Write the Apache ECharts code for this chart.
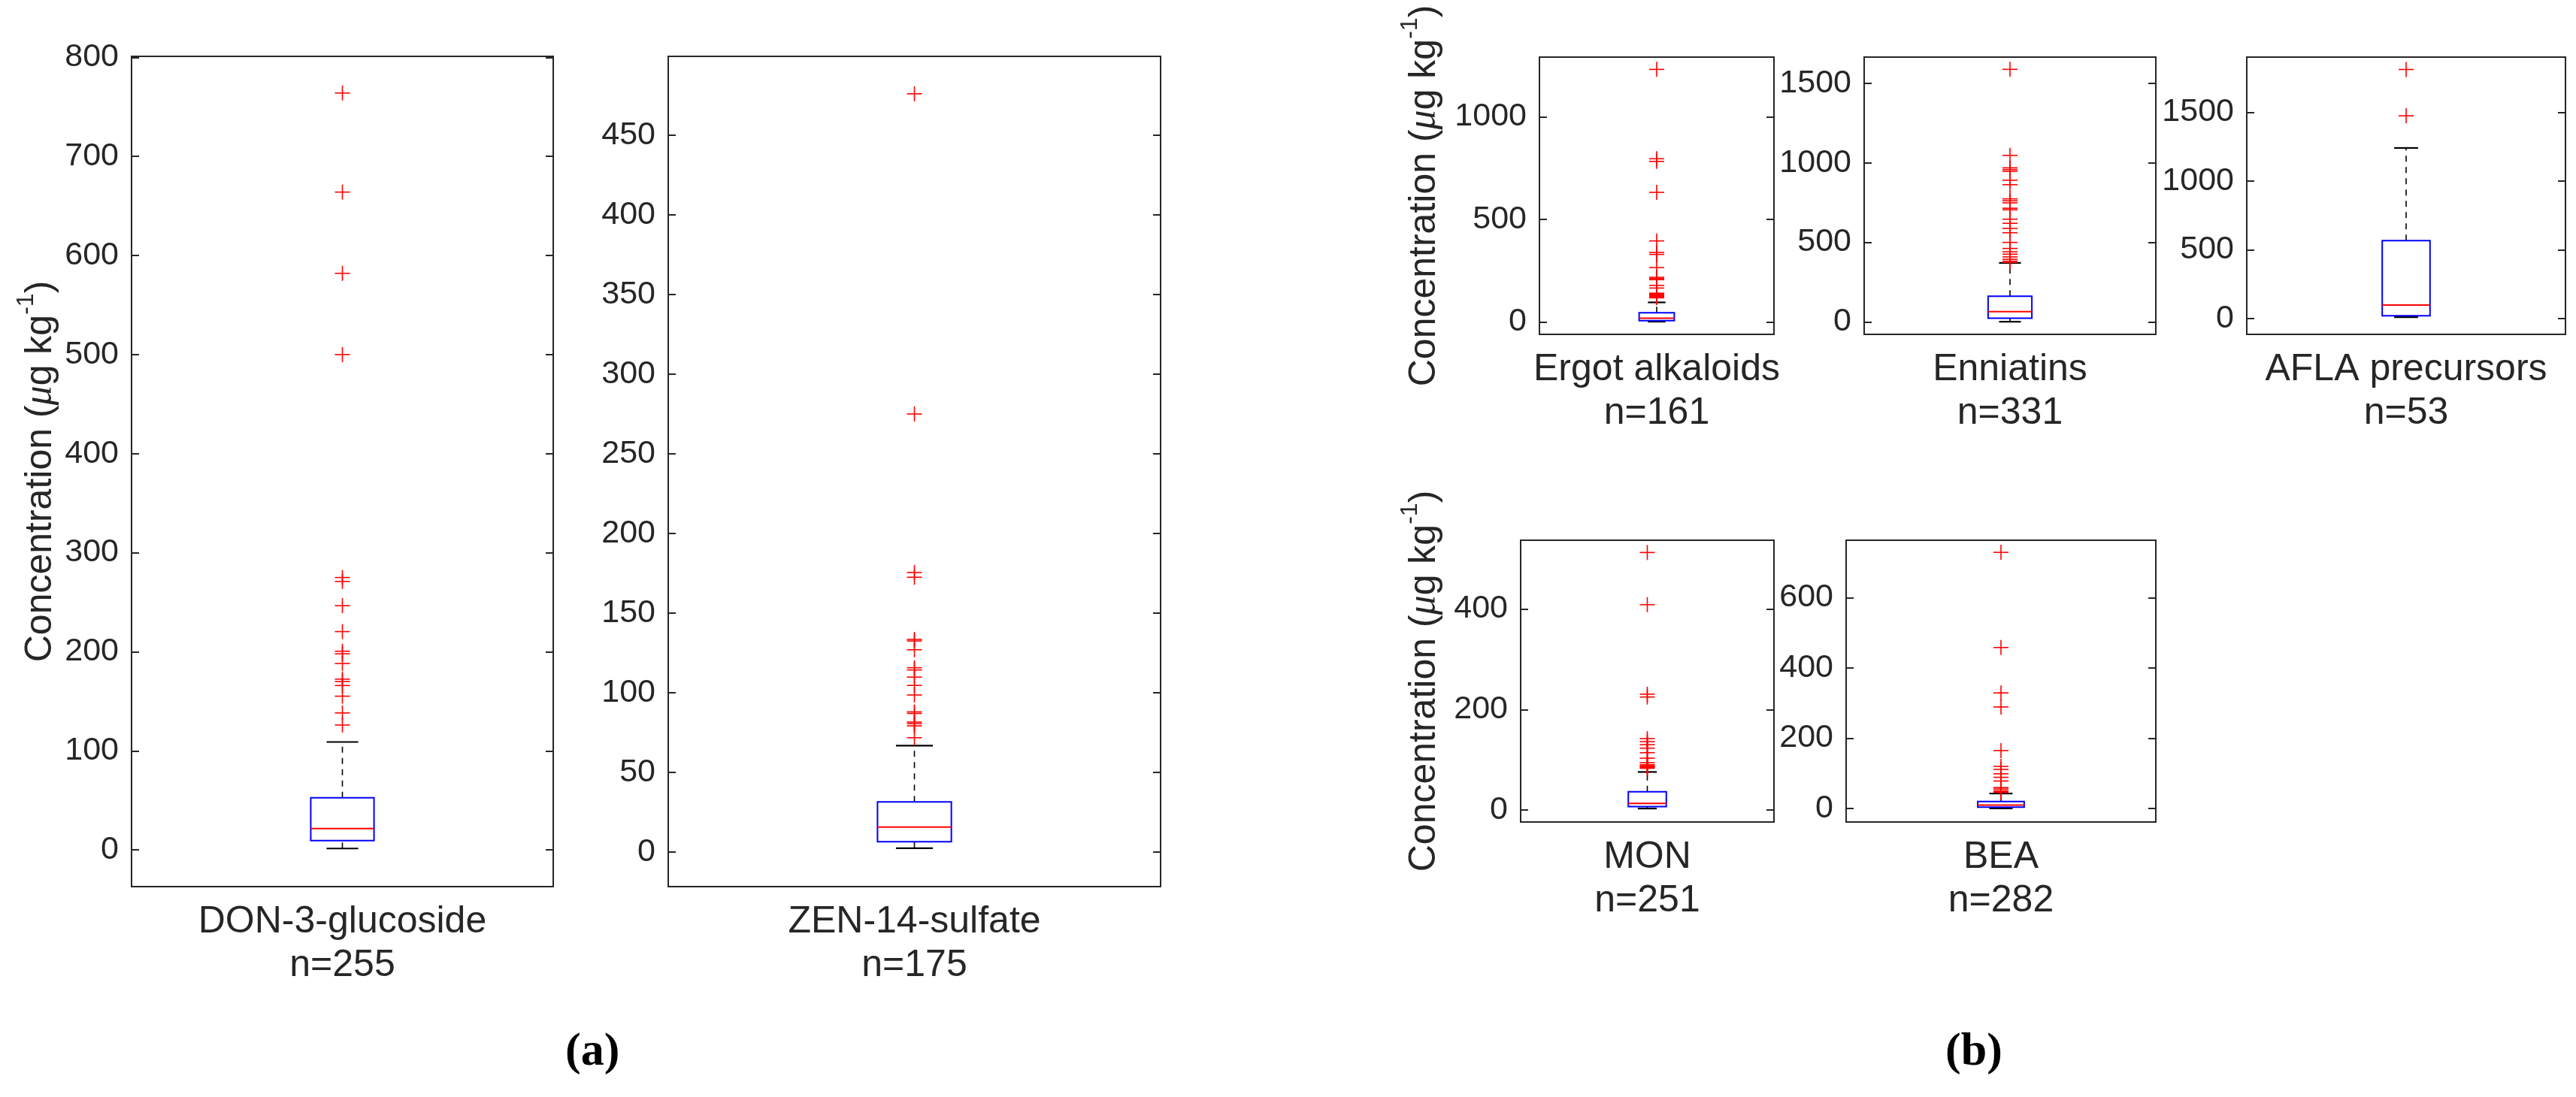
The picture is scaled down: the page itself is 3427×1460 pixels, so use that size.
<!DOCTYPE html>
<html>
<head>
<meta charset="utf-8">
<title>Concentration boxplots</title>
<script src="https://cdn.jsdelivr.net/npm/echarts@6/dist/echarts.min.js"></script>
<style>
  html, body { margin: 0; padding: 0; background: #fff; }
  #main { width: 3427px; height: 1460px; }
</style>
</head>
<body>
<div id="main"></div>
<script>
// categories and sample counts
const categories = ['DON-3-glucoside', 'ZEN-14-sulfate', 'Ergot alkaloids', 'Enniatins', 'AFLA precursors', 'MON', 'BEA']
const sampleSizes = [255, 175, 161, 331, 53, 251, 282]

// box statistics: [lower whisker, Q1, median, Q3, upper whisker]
const boxStats = [
  [1.5, 9.5, 21.6, 52.6, 109],
  [2.4, 6.5, 15.7, 31.5, 66.8],
  [1, 6, 17.6, 44, 95],
  [1.5, 23, 65, 162, 371],
  [10, 20, 98, 567, 1241],
  [2.8, 6.6, 13, 36.3, 75.6],
  [0.7, 4, 10, 20, 43]
]

// outliers
const outliersDON = [764, 664, 582, 500, 275, 271, 246.6, 220.4, 200.6, 198, 188.2, 172.4, 170, 166, 155.2, 138.3, 126.1]
const outliersZEN = [476, 275, 175.5, 172.5, 133.5, 132.5, 127, 115.7, 114.3, 109.8, 104.6, 98.6, 88, 87, 81.6, 80.6, 79.2, 71.8]
const outliersErgot = [1232, 796, 783, 632, 395, 339, 329, 265, 217.5, 211, 206, 178, 165, 140, 136, 134, 131, 129, 125, 122, 117.5]
const outliersEnn = [1588, 1047, 969, 958, 947, 891, 863, 774, 762, 749, 715, 705, 646, 620, 588, 561, 500, 462, 441, 426, 409, 394, 382, 375]
const outliersAFLA = [1812, 1475]
const outliersMON = [512.6, 408.7, 230.5, 224.8, 142, 136, 130, 123, 114, 103, 94, 90, 88, 86.4, 85, 83]
const outliersBEA = [728.6, 458, 329, 289, 165, 120, 111.6, 99, 89, 78.5, 60, 55.6, 50.5, 48, 47.5, 46]
const outliers = [outliersDON, outliersZEN, outliersErgot, outliersEnn, outliersAFLA, outliersMON, outliersBEA]

// y axis limits and tick labels
const yMin = [-37, -21.7, -61, -78, -115, -24, -38]
const yMax = [801, 499.5, 1292, 1665, 1902, 537, 763]
const ticksDON = [0, 100, 200, 300, 400, 500, 600, 700, 800]
const ticksZEN = [0, 50, 100, 150, 200, 250, 300, 350, 400, 450]
const ticksErgot = [0, 500, 1000]
const ticksEnn = [0, 500, 1000, 1500]
const ticksAFLA = [0, 500, 1000, 1500]
const ticksMON = [0, 200, 400]
const ticksBEA = [0, 200, 400, 600]
const yTicks = [ticksDON, ticksZEN, ticksErgot, ticksEnn, ticksAFLA, ticksMON, ticksBEA]

// layout of the subplots (pixels)
const gridRects = [
  { left: 175, top: 75, width: 561, height: 1105 },
  { left: 889, top: 75, width: 655, height: 1105 },
  { left: 2048, top: 76, width: 312, height: 369 },
  { left: 2480, top: 76, width: 388, height: 369 },
  { left: 2989, top: 76, width: 424, height: 369 },
  { left: 2023, top: 719, width: 337, height: 375 },
  { left: 2456, top: 719, width: 412, height: 375 }
]
// which subplots carry the y label, and its gap
const yNameGap = { 0: 96, 2: 128, 5: 103 }

const TXT = '#262626'
const FONT = '"Liberation Sans", Arial, sans-serif'

const yLabel = '{n|Concentration (}{m|μ}{n|g kg}{s|-1}{n|)}'
const yLabelRich = {
  n: { fontSize: 50, fontFamily: FONT, color: TXT, lineHeight: 60, verticalAlign: 'bottom' },
  m: { fontSize: 52, fontFamily: '"Liberation Serif", serif', fontStyle: 'italic', color: TXT, lineHeight: 60, verticalAlign: 'bottom' },
  s: { fontSize: 32, fontFamily: FONT, color: TXT, lineHeight: 32, verticalAlign: 'top' }
}

function renderBox(params, api) {
  const lo = api.value(1), q1 = api.value(2), med = api.value(3), q3 = api.value(4), hi = api.value(5)
  const band = api.size([1, 0])[0]
  const hw = band * 0.075
  const cw = hw * 0.5
  const pLo = api.coord([0, lo]), pQ1 = api.coord([0, q1]), pMed = api.coord([0, med])
  const pQ3 = api.coord([0, q3]), pHi = api.coord([0, hi])
  const x = pMed[0]
  const dash = { stroke: '#000', lineWidth: 1.6, lineDash: [8, 7] }
  const solid = { stroke: '#000', lineWidth: 2.2 }
  return {
    type: 'group',
    children: [
      { type: 'line', shape: { x1: x, y1: pQ3[1], x2: x, y2: pHi[1] }, style: dash },
      { type: 'line', shape: { x1: x, y1: pLo[1], x2: x, y2: pQ1[1] }, style: dash },
      { type: 'line', shape: { x1: x - cw, y1: pHi[1], x2: x + cw, y2: pHi[1] }, style: solid },
      { type: 'line', shape: { x1: x - cw, y1: pLo[1], x2: x + cw, y2: pLo[1] }, style: solid },
      { type: 'rect', shape: { x: x - hw, y: pQ3[1], width: 2 * hw, height: pQ1[1] - pQ3[1] },
        style: { fill: null, stroke: '#0000ff', lineWidth: 2 } },
      { type: 'line', shape: { x1: x - hw, y1: pMed[1], x2: x + hw, y2: pMed[1] },
        style: { stroke: '#ff0000', lineWidth: 2 } }
    ]
  }
}

function renderPlus(params, api) {
  const p = api.coord([0, api.value(1)])
  const r = 10
  const st = { stroke: '#ff0000', lineWidth: 1.6 }
  return {
    type: 'group',
    children: [
      { type: 'line', shape: { x1: p[0] - r, y1: p[1], x2: p[0] + r, y2: p[1] }, style: st },
      { type: 'line', shape: { x1: p[0], y1: p[1] - r, x2: p[0], y2: p[1] + r }, style: st }
    ]
  }
}

const grid = [], xAxis = [], yAxis = [], series = []
categories.forEach((cat, i) => {
  grid.push(Object.assign({
    show: true, borderColor: TXT, borderWidth: 2, backgroundColor: '#fff', containLabel: false
  }, gridRects[i]))
  xAxis.push({
    type: 'category', gridIndex: i, data: [cat],
    axisLine: { show: false }, axisTick: { show: false }, splitLine: { show: false },
    axisLabel: {
      margin: 18, fontSize: 50, lineHeight: 58, color: TXT, fontFamily: FONT,
      formatter: v => v + '\nn=' + sampleSizes[i]
    }
  })
  const common = {
    type: 'value', gridIndex: i, min: yMin[i], max: yMax[i],
    axisLine: { show: false }, splitLine: { show: false }
  }
  const left = Object.assign({}, common, {
    position: 'left',
    axisTick: { show: true, inside: true, length: 10, lineStyle: { color: TXT, width: 2 }, customValues: yTicks[i] },
    axisLabel: {
      show: true, margin: 17, fontSize: 43, color: TXT, fontFamily: FONT,
      customValues: yTicks[i], formatter: v => String(v)
    }
  })
  if (yNameGap[i] !== undefined) {
    left.name = yLabel
    left.nameLocation = 'middle'
    left.nameRotate = 90
    left.nameGap = yNameGap[i]
    left.nameTextStyle = { rich: yLabelRich }
  }
  yAxis.push(left)
  yAxis.push(Object.assign({}, common, {
    position: 'right',
    axisTick: { show: true, inside: true, length: 10, lineStyle: { color: TXT, width: 2 }, customValues: yTicks[i] },
    axisLabel: { show: false }
  }))
  series.push({
    type: 'custom', xAxisIndex: i, yAxisIndex: 2 * i,
    renderItem: renderBox, silent: true,
    data: [[0].concat(boxStats[i])]
  })
  series.push({
    type: 'custom', xAxisIndex: i, yAxisIndex: 2 * i,
    renderItem: renderPlus, silent: true,
    data: outliers[i].map(v => [0, v])
  })
})

const chart = echarts.init(document.getElementById('main'))
chart.setOption({
  backgroundColor: '#fff',
  animation: false,
  grid, xAxis, yAxis, series,
  graphic: [
    { type: 'text', left: 792 - 40, top: 1370,
      style: { text: '(a)', font: 'bold 62px "Liberation Serif", serif', fill: '#000' } },
    { type: 'text', left: 2628 - 40, top: 1370,
      style: { text: '(b)', font: 'bold 62px "Liberation Serif", serif', fill: '#000' } }
  ]
})
</script>
</body>
</html>
